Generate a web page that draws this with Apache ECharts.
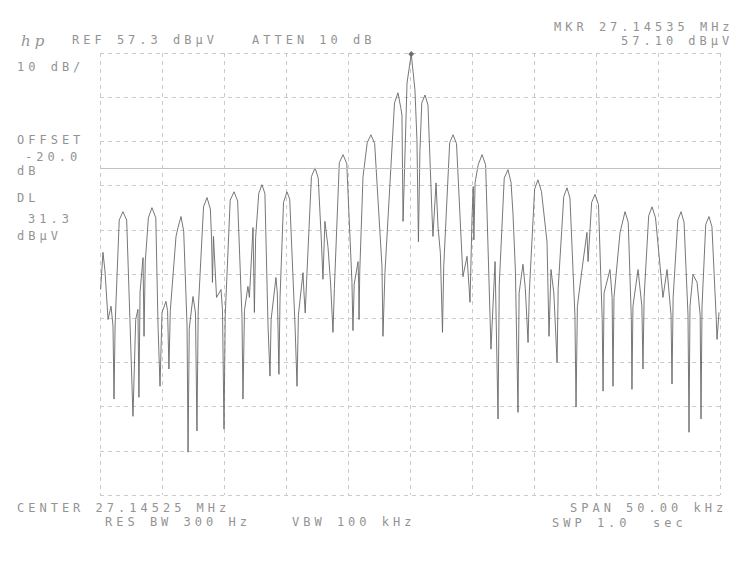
<!DOCTYPE html>
<html>
<head>
<meta charset="utf-8">
<script src="https://cdn.jsdelivr.net/npm/echarts@6/dist/echarts.min.js"></script>
<style>
html,body{margin:0;padding:0;background:#fff;}
#chart{width:750px;height:561px;}
#chart svg text{letter-spacing:4px !important;white-space:pre !important;}
</style>
</head>
<body>
<div id="chart"></div>
<script>
// Frequency offset from centre (kHz), span 50 kHz
const freqKHz = [
-24.95,-24.76,-24.60,-24.35,-24.11,-23.95,-23.87,-23.78,-23.45,-23.15,-22.85,-22.58,-22.34,-22.12,-21.94,-21.86,-21.77,-21.53,-21.45,-21.35,
-21.10,-20.81,-20.50,-20.32,-20.16,-20.00,-19.68,-19.55,-19.44,-19.33,-18.87,-18.71,-18.47,-18.25,-17.98,-17.90,-17.80,-17.50,-17.30,-17.18,
-17.08,-16.65,-16.37,-16.10,-16.00,-15.93,-15.85,-15.60,-15.24,-15.12,-15.00,-14.90,-14.50,-14.19,-13.90,-13.55,-13.47,-13.35,-13.07,-12.95,
-12.66,-12.55,-12.45,-12.20,-11.94,-11.70,-11.45,-11.29,-11.20,-10.81,-10.70,-10.57,-10.48,-10.20,-9.92,-9.70,-9.27,-9.11,-9.00,-8.63,
-8.55,-8.45,-8.35,-7.95,-7.66,-7.40,-7.15,-7.02,-6.86,-6.61,-6.40,-6.21,-6.10,-5.70,-5.40,-5.10,-4.68,-4.60,-4.50,-4.19,
-4.14,-4.11,-4.05,-3.79,-3.45,-3.15,-2.85,-2.26,-2.18,-2.02,-1.25,-0.97,-0.75,-0.65,-0.56,-0.24,0.10,0.40,0.56,0.68,
0.80,0.95,1.21,1.45,1.77,1.85,2.10,2.26,2.45,2.62,2.72,3.20,3.47,3.75,4.27,4.60,4.84,5.00,5.10,5.15,
5.25,5.50,5.81,6.10,6.53,6.86,7.10,7.20,7.60,7.90,8.15,8.31,8.50,8.71,8.80,9.11,9.30,9.52,9.62,10.05,
10.32,10.60,11.05,11.21,11.37,11.60,11.86,11.95,12.40,12.66,12.90,13.30,13.39,13.50,13.87,14.27,14.36,14.65,14.92,15.20,
15.50,15.57,15.65,16.13,16.30,16.37,16.45,16.94,17.34,17.60,17.85,17.90,17.98,18.39,18.70,18.79,18.88,19.25,19.52,19.80,
20.08,20.40,20.73,21.05,21.13,21.22,21.60,21.86,22.10,22.42,22.50,22.58,22.82,23.15,23.40,23.47,23.55,23.85,24.11,24.35,
24.70,24.76,24.92
];
// Trace level (dBuV)
const levelDbuV = [
3.8,12.2,8.0,-3.0,0.0,-4.5,-21.0,-4.0,19.5,21.4,19.5,-3.6,-24.9,-3.0,-0.7,-20.6,3.2,11.0,-6.8,10.0,
20.0,22.3,20.0,-4.5,-18.1,-1.4,1.1,-1.0,-14.2,-1.0,15.8,17.8,20.3,17.0,-4.5,-33.0,-5.0,2.2,-1.5,-28.2,
-1.0,22.5,24.6,22.0,15.0,5.4,15.8,2.0,3.8,-1.0,-27.8,-2.0,24.0,25.9,23.8,-2.3,-21.0,-1.0,4.5,2.0,
17.8,-1.4,15.5,25.5,27.5,25.5,-4.5,-15.8,-3.0,6.5,3.0,-15.4,2.0,23.5,25.9,24.2,-4.5,-18.1,-2.0,7.6,
3.0,-1.5,5.0,29.3,31.3,29.0,15.0,6.1,19.2,13.3,5.0,-5.9,4.0,32.5,34.3,32.3,5.4,-5.5,5.0,10.1,
5.0,-3.0,8.0,29.3,37.0,38.8,36.8,9.0,-6.8,7.6,46.0,48.3,45.0,43.3,19.2,50.5,57.1,48.9,37.7,14.6,
35.0,46.0,47.8,45.5,21.2,15.8,27.9,18.0,12.0,-5.9,9.0,37.0,38.8,36.8,6.7,11.3,0.9,20.0,27.1,15.0,
28.0,32.0,34.3,32.0,-9.7,10.1,-25.5,5.0,29.0,30.9,28.0,20.7,8.0,-24.0,3.0,9.5,4.0,-8.2,3.0,26.5,
28.6,26.0,14.6,-6.8,8.3,3.0,-12.7,4.0,24.8,26.8,24.5,-2.0,-22.8,0.0,8.3,16.7,10.1,23.5,25.3,23.0,
-3.0,-19.2,3.0,8.3,2.0,-18.1,2.0,16.7,21.4,19.0,-3.0,-18.8,0.0,8.3,0.0,-14.2,2.0,20.5,22.5,20.0,
11.7,2.0,8.3,-2.0,-17.6,2.0,19.5,21.4,19.0,-2.0,-28.5,0.0,7.2,5.4,-2.0,-25.5,0.0,18.5,20.3,18.0,
-3.0,-7.5,-1.4
];
const markerFreq = [0.10];
const markerLevel = [57.10];
const displayLine = [31.3];
const refLevel = 57.3;
const dbPerDiv = 10;
const vertDivs = 10;
const spanKHz = 50;
const horizDivs = 10;

const hdrTexts = ['REF 57.3 dB\u03bcV', 'ATTEN 10 dB', 'MKR 27.14535 MHz', '57.10 dB\u03bcV', '10 dB/'];
const sideTexts = ['OFFSET', '-20.0', 'dB', 'DL', '31.3', 'dB\u03bcV'];
const footTexts = ['CENTER 27.14525 MHz', 'SPAN 50.00 kHz', 'RES BW 300 Hz', 'VBW 100 kHz', 'SWP 1.0  sec'];

const chart = echarts.init(document.getElementById('chart'), null, {renderer: 'svg'});
const gridColor = '#cacaca';
const txtColor = '#939393';
const F = 'DejaVu Sans Mono';
function t(text, x, y) {
  return {type: 'text', x: x, y: y, silent: true,
    style: {text: text, fill: txtColor, font: '12px "' + F + '"', textAlign: 'left', textVerticalAlign: 'middle'}};
}
const graphics = [
  {type: 'text', x: 21, y: 41, silent: true, style: {text: 'hp', fill: '#959595', font: 'italic 15px "DejaVu Serif"', textAlign: 'left', textVerticalAlign: 'middle'}},
  t(hdrTexts[0], 72, 39.5),
  t(hdrTexts[1], 252, 39.5),
  t(hdrTexts[2], 554, 26.5),
  t(hdrTexts[3], 621, 40.5),
  t(hdrTexts[4], 17, 66.5),
  t(sideTexts[0], 17, 139.5),
  t(sideTexts[1], 25, 156.5),
  t(sideTexts[2], 17, 171),
  t(sideTexts[3], 17, 197.5),
  t(sideTexts[4], 28, 218.5),
  t(sideTexts[5], 17, 235.5),
  t(footTexts[0], 17, 507.5),
  t(footTexts[1], 570, 507.5),
  t(footTexts[2], 105, 522),
  t(footTexts[3], 292, 522),
  t(footTexts[4], 552, 522.5)
];

chart.setOption({
  animation: false,
  backgroundColor: '#ffffff',
  grid: {left: 100, right: 30, top: 53, bottom: 66, containLabel: false},
  xAxis: {
    type: 'value', min: -spanKHz / 2, max: spanKHz / 2, interval: spanKHz / horizDivs,
    axisLine: {show: false}, axisTick: {show: false}, axisLabel: {show: false},
    splitLine: {show: true, lineStyle: {color: gridColor, width: 1, type: [4, 4]}}
  },
  yAxis: {
    type: 'value', min: refLevel - dbPerDiv * vertDivs, max: refLevel, interval: dbPerDiv,
    axisLine: {show: false}, axisTick: {show: false}, axisLabel: {show: false},
    splitLine: {show: true, lineStyle: {color: gridColor, width: 1, type: [4, 4]}}
  },
  series: [
    {
      type: 'line',
      data: freqKHz.map((f, i) => [f, levelDbuV[i]]),
      showSymbol: false,
      symbol: 'none',
      lineStyle: {color: '#686868', width: 0.9},
      silent: true,
      markLine: {
        silent: true, symbol: 'none', label: {show: false},
        lineStyle: {color: '#c2c2c2', width: 1, type: 'solid'},
        data: displayLine.map(v => ({yAxis: v}))
      }
    },
    {
      type: 'scatter',
      data: markerFreq.map((f, i) => [f, markerLevel[i]]),
      symbol: 'diamond', symbolSize: 6,
      itemStyle: {color: '#555'},
      silent: true
    }
  ],
  graphic: graphics
});
</script>
</body>
</html>
